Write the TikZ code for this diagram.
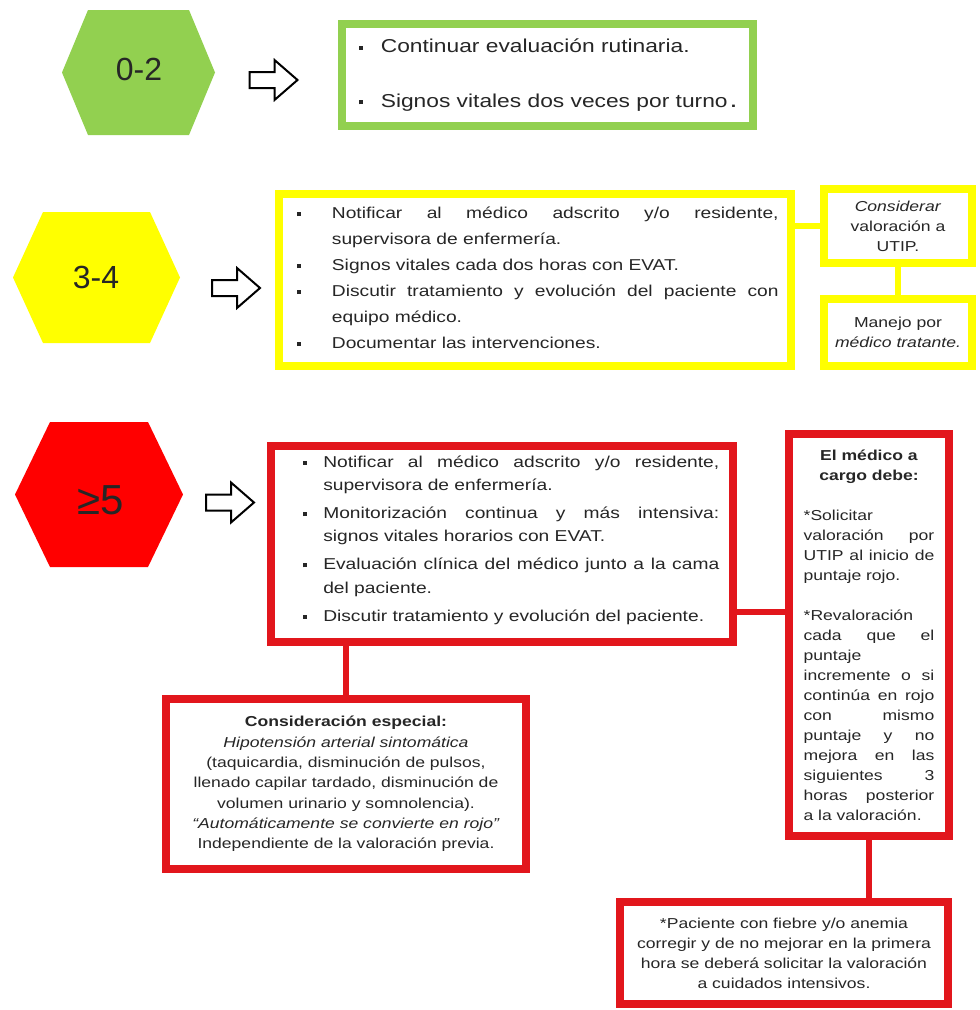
\documentclass[tikz,border=0pt]{standalone}
\usepackage{fontspec}
\setmainfont[FakeStretch=1.22]{Liberation Sans}
\newfontfamily\hexfont{Liberation Sans}
\definecolor{verde}{HTML}{92D050}
\definecolor{amarillo}{HTML}{FFFF00}
\definecolor{rojo}{HTML}{E2161C}
\definecolor{rojohex}{HTML}{FF0000}
\newcommand{\cuad}{\raisebox{0.3ex}{\rule{3pt}{3pt}}}
\newcommand{\vineta}[1]{\makebox[#1][l]{\cuad}}
\newcommand{\just}[2]{\makebox[#1][s]{\spaceskip=0pt\xspaceskip=0pt #2}}
\newcommand{\hexagono}[6]{\fill[#6, shift={(#1,#2)}] (-#3,0) -- (-#3+#5,-#4) -- (#3-#5,-#4) -- (#3,0) -- (#3-#5,#4) -- (-#3+#5,#4) -- cycle;}
\newcommand{\flechabloque}[2]{\draw[flecha, shift={(#1,#2)}] (-24,-8) -- (1,-8) -- (1,-20) -- (24,0) -- (1,20) -- (1,8) -- (-24,8) -- cycle;}
\begin{document}
\begin{tikzpicture}[x=0.75pt, y=-0.75pt,
  caja/.style 2 args={draw, line width=6pt, minimum width=#1, minimum height=#2, inner sep=0pt, align=center, text=black!85, font=\fontsize{10.8}{15}\selectfont},
  lista/.style={anchor=west, inner sep=0pt, align=left, text=black!85, font=\fontsize{11.8}{19.5}\selectfont},
  conector/.style={line width=5pt},
  flecha/.style={draw=black, fill=white, line width=1.5pt, line join=miter},
  cifra/.style={inner sep=0pt, text=black!85, font=\hexfont\fontsize{24}{24}\selectfont}]
    \fill[white] (0,0) rectangle (979,1010);
    \useasboundingbox (0,0) rectangle (979,1010);
    \hexagono{138.5}{72.5}{76.5}{62.5}{26}{verde}
    \hexagono{96.5}{277.5}{83.5}{65.5}{30}{amarillo}
    \hexagono{99}{494.5}{84}{72.5}{35}{rojohex}
    \node[cifra] (hexverde) at (139,69) {0-2};
    \node[cifra] (hexamarillo) at (96,277) {3-4};
    \node[cifra, font=\hexfont\fontsize{31.5}{31.5}\selectfont] (hexrojo) at (101,500) {≥5};
    \flechabloque{273.5}{80}
    \flechabloque{236}{288}
    \flechabloque{230}{502.5}
    \node[caja={308.25pt}{76.5pt}, draw=verde, align=left, font=\fontsize{14}{17}\selectfont] (gbox) at (547.5,75)
        {\vineta{16.5pt}Continuar evaluación rutinaria.\\[24pt]
         \vineta{16.5pt}Signos vitales dos veces por turno\,{\large\textbf{.}}};
    \node[caja={384pt}{129pt}, draw=amarillo] (ybox) at (535,280) {};
    \node[lista] (ylist) at (297,278)
        {\vineta{26pt}\just{335pt}{Notificar al médico adscrito y/o residente,}\\
         \hspace*{26pt}supervisora de enfermería.\\
         \vineta{26pt}Signos vitales cada dos horas con EVAT.\\
         \vineta{26pt}\just{335pt}{Discutir tratamiento y evolución del paciente con}\\
         \hspace*{26pt}equipo médico.\\
         \vineta{26pt}Documentar las intervenciones.};
    \node[caja={111pt}{55.5pt}, draw=amarillo] (consid) at (898,226) {\textit{Considerar}\\valoración a\\UTIP.};
    \node[caja={111pt}{50.25pt}, draw=amarillo] (manejo) at (898,332.5) {Manejo por\\\textit{médico tratante.}};
    \draw[conector, amarillo] (consid.west) -- (consid.west -| ybox.east);
    \draw[conector, amarillo] (consid.south) -- (manejo.north);
    \node[caja={346.5pt}{147pt}, draw=rojo] (rbox) at (502,544) {};
    \node[lista, font=\fontsize{11.8}{17.5}\selectfont] (rlist) at (303,540)
        {\vineta{15pt}\just{297pt}{Notificar al médico adscrito y/o residente,}\\
         \hspace*{15pt}supervisora de enfermería.\\[3.5pt]
         \vineta{15pt}\just{297pt}{Monitorización continua y más intensiva:}\\
         \hspace*{15pt}signos vitales horarios con EVAT.\\[3.5pt]
         \vineta{15pt}\just{297pt}{Evaluación clínica del médico junto a la cama}\\
         \hspace*{15pt}del paciente.\\[3.5pt]
         \vineta{15pt}Discutir tratamiento y evolución del paciente.};
    \node[caja={120pt}{301.5pt}, draw=rojo, text width=98pt, align=left] (medico) at (869,635)
        {\makebox[98pt]{\textbf{El médico a}}\\
         \makebox[98pt]{\textbf{cargo debe:}}\\[15pt]
         *Solicitar\\
         \just{98pt}{valoración por}\\
         \just{98pt}{UTIP al inicio de}\\
         puntaje rojo.\\[15pt]
         *Revaloración\\
         \just{98pt}{cada que el}\\
         puntaje\\
         \just{98pt}{incremente o si}\\
         \just{98pt}{continúa en rojo}\\
         \just{98pt}{con mismo}\\
         \just{98pt}{puntaje y no}\\
         \just{98pt}{mejora en las}\\
         \just{98pt}{siguientes 3}\\
         \just{98pt}{horas posterior}\\
         a la valoración.};
    \node[caja={270pt}{127.5pt}, draw=rojo, font=\fontsize{10.8}{15.2}\selectfont] (consesp) at (346,784)
        {\textbf{Consideración especial:}\\
         \textit{Hipotensión arterial sintomática}\\
         (taquicardia, disminución de pulsos,\\
         llenado capilar tardado, disminución de\\
         volumen urinario y somnolencia).\\
         \textit{“Automáticamente se convierte en rojo”}\\
         Independiente de la valoración previa.};
    \node[caja={246pt}{76.5pt}, draw=rojo] (paciente) at (784,953)
        {*Paciente con fiebre y/o anemia\\
         corregir y de no mejorar en la primera\\
         hora se deberá solicitar la valoración\\
         a cuidados intensivos.};
    \coordinate (rjoin) at ([yshift=25.5pt]rbox.south east);
    \draw[conector, rojo] (rjoin) -- (rjoin -| medico.west);
    \draw[conector, rojo] (rbox.south -| consesp.north) -- (consesp.north);
    \draw[conector, rojo] (medico.south) -- (medico.south |- paciente.north);
\end{tikzpicture}
\end{document}
